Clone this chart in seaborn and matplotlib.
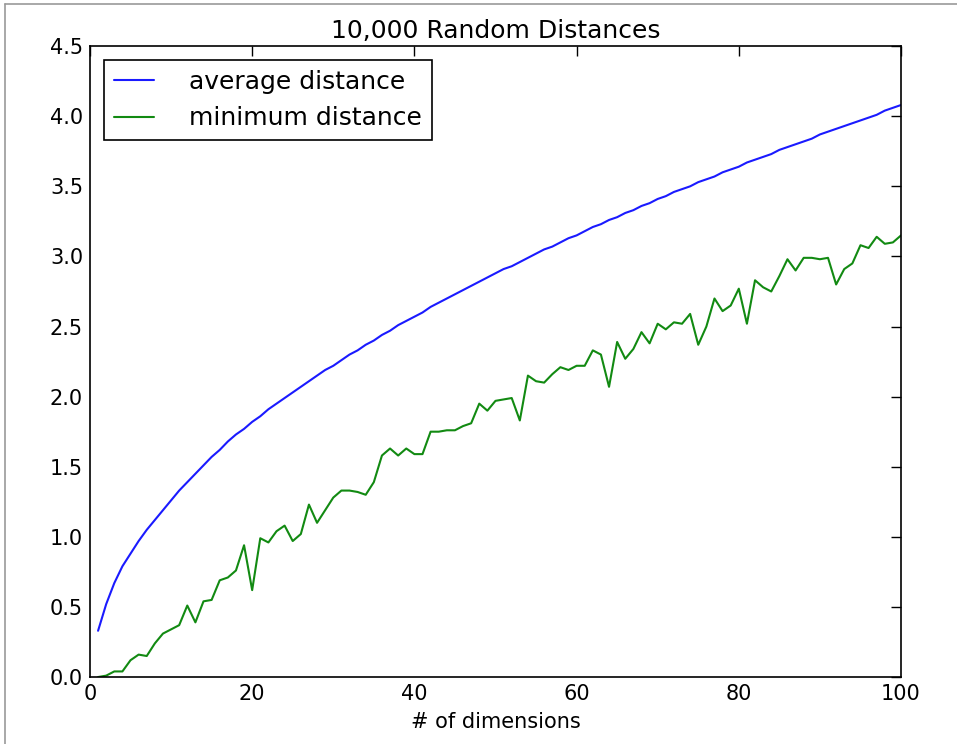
import numpy as np
import pandas as pd
import matplotlib
matplotlib.use("Agg")
import matplotlib.pyplot as plt
from matplotlib.lines import Line2D
import seaborn as sns

dimensions = list(range(1, 101))

avg_distances = [
    0.33, 0.52, 0.67, 0.79, 0.88, 0.97, 1.05, 1.12, 1.19, 1.26,
    1.33, 1.39, 1.45, 1.51, 1.57, 1.62, 1.68, 1.73, 1.77, 1.82,
    1.86, 1.91, 1.95, 1.99, 2.03, 2.07, 2.11, 2.15, 2.19, 2.22,
    2.26, 2.30, 2.33, 2.37, 2.40, 2.44, 2.47, 2.51, 2.54, 2.57,
    2.60, 2.64, 2.67, 2.70, 2.73, 2.76, 2.79, 2.82, 2.85, 2.88,
    2.91, 2.93, 2.96, 2.99, 3.02, 3.05, 3.07, 3.10, 3.13, 3.15,
    3.18, 3.21, 3.23, 3.26, 3.28, 3.31, 3.33, 3.36, 3.38, 3.41,
    3.43, 3.46, 3.48, 3.50, 3.53, 3.55, 3.57, 3.60, 3.62, 3.64,
    3.67, 3.69, 3.71, 3.73, 3.76, 3.78, 3.80, 3.82, 3.84, 3.87,
    3.89, 3.91, 3.93, 3.95, 3.97, 3.99, 4.01, 4.04, 4.06, 4.08,
]

min_distances = [
    0.00, 0.01, 0.04, 0.04, 0.12, 0.16, 0.15, 0.24, 0.31, 0.34,
    0.37, 0.51, 0.39, 0.54, 0.55, 0.69, 0.71, 0.76, 0.94, 0.62,
    0.99, 0.96, 1.04, 1.08, 0.97, 1.02, 1.23, 1.10, 1.19, 1.28,
    1.33, 1.33, 1.32, 1.30, 1.39, 1.58, 1.63, 1.58, 1.63, 1.59,
    1.59, 1.75, 1.75, 1.76, 1.76, 1.79, 1.81, 1.95, 1.90, 1.97,
    1.98, 1.99, 1.83, 2.15, 2.11, 2.10, 2.16, 2.21, 2.19, 2.22,
    2.22, 2.33, 2.30, 2.07, 2.39, 2.27, 2.34, 2.46, 2.38, 2.52,
    2.48, 2.53, 2.52, 2.59, 2.37, 2.50, 2.70, 2.61, 2.65, 2.77,
    2.52, 2.83, 2.78, 2.75, 2.86, 2.98, 2.90, 2.99, 2.99, 2.98,
    2.99, 2.80, 2.91, 2.95, 3.08, 3.06, 3.14, 3.09, 3.10, 3.15,
]

df = pd.DataFrame({
    "dims": dimensions * 2,
    "dist": avg_distances + min_distances,
    "kind": ["average distance"] * 100 + ["minimum distance"] * 100,
})

sns.set_style("white")
plt.rcParams["font.family"] = ["DejaVu Sans"]
plt.rcParams["text.color"] = "black"
plt.rcParams["axes.labelcolor"] = "black"
plt.rcParams["xtick.color"] = "black"
plt.rcParams["ytick.color"] = "black"

fig = plt.figure(figsize=(9.57, 7.44), dpi=100)
ax = fig.add_axes([0.094, 0.09, 0.8475, 0.848])

sns.lineplot(data=df, x="dims", y="dist", hue="kind",
             palette={"average distance": "#1a1aff", "minimum distance": "#128a12"},
             linewidth=1.5, ax=ax)

ax.set_xlim(0, 100)
ax.set_ylim(0, 4.5)
ax.set_xticks([0, 20, 40, 60, 80, 100])
ax.set_yticks(np.arange(0, 4.51, 0.5))
ax.set_yticklabels([f"{v:.1f}" for v in np.arange(0, 4.51, 0.5)])
ax.tick_params(direction="in", length=7, width=1, top=True, right=True,
               labelsize=15, pad=5, colors="black")
for s in ax.spines.values():
    s.set_visible(True)
    s.set_color("black")
    s.set_linewidth(1.2)

ax.set_title("10,000 Random Distances", fontsize=18, pad=6)
ax.set_xlabel("# of dimensions", fontsize=15, labelpad=6)
ax.set_ylabel("")

leg = ax.legend(loc="upper left", fontsize=18, frameon=True, fancybox=False,
                edgecolor="black", handlelength=1.6, borderpad=0.4,
                handletextpad=1.4, labelspacing=0.5, borderaxespad=0.55)
leg.get_frame().set_linewidth(1.2)
leg.get_frame().set_alpha(1)

# thin grey frame of the original screenshot
fig.add_artist(Line2D([5 / 957, 5 / 957], [0, 1 - 4 / 744], color="#999999", lw=1.2))
fig.add_artist(Line2D([5 / 957, 1], [1 - 4 / 744, 1 - 4 / 744], color="#999999", lw=1.2))

fig.savefig("out.png", dpi=100)
